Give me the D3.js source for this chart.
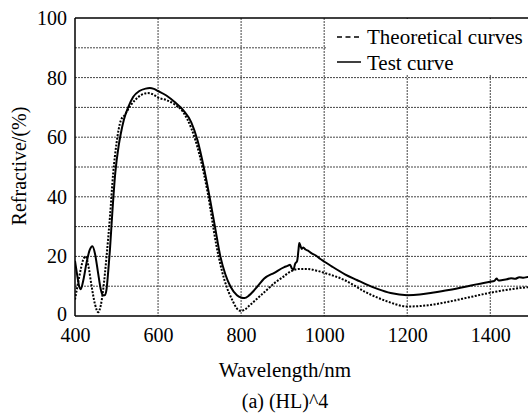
<!DOCTYPE html>
<html><head><meta charset="utf-8">
<script src="https://cdn.jsdelivr.net/npm/d3@7"></script>
<style>body{margin:0;background:#fff}svg{display:block}svg text{font-family:'Liberation Serif','Times New Roman',Times,serif !important;fill:#000}</style>
</head><body><svg id="c" width="528" height="414"></svg>
<script>
const xTicks=[400,600,800,1000,1200,1400];
const yTicks=[0,20,40,60,80,100];
const legendLabels=["Theoretical curves","Test curve"];
const theoWl=[400,410,420,426,432,440,448,456,462,468,476,484,492,500,510,520,533,545,560,575,590,600,620,640,660,680,700,720,740,760,780,790,800,810,820,840,860,880,900,920,940,960,980,1000,1050,1100,1150,1200,1250,1300,1350,1400,1450,1500];
const theoR=[5.5,13,19,20,17,10,4,1.3,3.5,9,20,33,48,58,65.5,67.5,70.5,72.5,74.2,74.8,74.2,73.3,72.5,71,68.5,63,54,41,24,12,5,2.5,1.7,2.3,3.5,6,8.5,11,13,15,15.8,15.8,15.3,14.5,12,8,5,3.2,3.6,4.8,6.3,7.8,9,9.8];
const testWl=[400,405,410,414,420,428,435,442,448,455,462,467,472,476,480,484,490,497,505,510,518,528,540,555,570,580,590,600,620,640,661,680,695,710,724,737,750,762,774,790,800,808,820,840,855,880,904,912,918,922,926,930,935,938,940,943,946,950,955,960,970,980,990,1000,1020,1050,1080,1100,1130,1160,1200,1230,1260,1300,1340,1370,1400,1410,1415,1420,1430,1440,1450,1460,1470,1480,1490,1500];
const testR=[18.5,14,10,9,12,18,22,23.4,21,15,9,7,7,9,15,22,35,48,57,61,66,70,73.5,75.5,76.3,76.5,76.2,75.5,74,71.8,69,65,59,50,40,30,20,14,10,7,6.2,6,7,10,12.5,14.5,16.4,16.8,17.2,16,15.5,17.5,18.5,22,24.5,23.5,22.5,23,22.3,22,21,20.3,19.2,18.3,16.5,14,12,10.7,9,7.7,7,7.2,7.8,8.7,9.8,10.7,11.5,11.8,12.6,11.9,12.1,12.3,12.7,12.5,13,12.8,13.1,13];

const FONT="'Liberation Serif','Times New Roman',Times,serif";
const svg=d3.select("#c");
const x=d3.scaleLinear().domain([400,1500]).range([75,531.8]);
const y=d3.scaleLinear().domain([0,100]).range([316,18]);
const L=75,R=528,T=18,B=316;

const g=svg.append("g");
g.selectAll("line.h").data(d3.range(10,100,10)).join("line")
 .attr("x1",L).attr("x2",R).attr("y1",d=>y(d)).attr("y2",d=>y(d))
 .attr("stroke","#444").attr("stroke-width",1).attr("stroke-dasharray","2,1");
g.selectAll("line.v").data(xTicks.slice(1)).join("line")
 .attr("x1",d=>x(d)).attr("x2",d=>x(d)).attr("y1",T).attr("y2",B)
 .attr("stroke","#444").attr("stroke-width",1).attr("stroke-dasharray","2,1");

svg.append("rect").attr("x",326).attr("y",T+1).attr("width",R-326).attr("height",55).attr("fill","#fff");

svg.append("defs").append("clipPath").attr("id","cp").append("rect")
 .attr("x",L).attr("y",T-5).attr("width",R-L).attr("height",B-T+5);

const line=d3.line().x(d=>x(d[0])).y(d=>y(d[1])).curve(d3.curveMonotoneX);
svg.append("path").datum(d3.zip(theoWl,theoR)).attr("d",line).attr("clip-path","url(#cp)")
 .attr("fill","none").attr("stroke","#000").attr("stroke-width",2).attr("stroke-dasharray","2,1.5");
svg.append("path").datum(d3.zip(testWl,testR)).attr("d",line).attr("clip-path","url(#cp)")
 .attr("fill","none").attr("stroke","#000").attr("stroke-width",2);

const xa=svg.append("g").attr("transform",`translate(0,${B})`)
 .call(d3.axisBottom(x).tickValues(xTicks).tickSize(0).tickPadding(12).tickFormat(d3.format("d")));
xa.select(".domain").remove();
xa.attr("font-family",FONT).attr("font-size",20);
const ya=svg.append("g").attr("transform",`translate(${L},0)`)
 .call(d3.axisLeft(y).tickValues(yTicks).tickSize(0).tickPadding(8));
ya.select(".domain").remove();
ya.attr("font-family",FONT).attr("font-size",20);
ya.selectAll(".tick").filter(d=>d===0).select("text").attr("y",-2);

svg.append("line").attr("x1",L).attr("x2",R).attr("y1",B).attr("y2",B).attr("stroke","#000").attr("stroke-width",1.5);
svg.append("line").attr("x1",L).attr("x2",L).attr("y1",T).attr("y2",B).attr("stroke","#000").attr("stroke-width",1.5);
svg.append("line").attr("x1",L).attr("x2",R).attr("y1",T).attr("y2",T).attr("stroke","#000").attr("stroke-width",1.5);

svg.append("line").attr("x1",337).attr("x2",361).attr("y1",37).attr("y2",37).attr("stroke","#000").attr("stroke-width",1.3).attr("stroke-dasharray","5,3.5");
svg.append("text").attr("x",367).attr("y",43.5).attr("font-size",21).text(legendLabels[0]);
svg.append("line").attr("x1",337).attr("x2",361).attr("y1",62).attr("y2",62).attr("stroke","#000").attr("stroke-width",1.5);
svg.append("text").attr("x",367).attr("y",70).attr("font-size",21).text(legendLabels[1]);

svg.append("text").attr("x",285).attr("y",377).attr("text-anchor","middle").attr("font-size",21).text("Wavelength/nm");
svg.append("text").attr("x",285).attr("y",408).attr("text-anchor","middle").attr("font-size",20).text("(a) (HL)^4");
svg.append("text").attr("transform","translate(26,166) rotate(-90)").attr("text-anchor","middle").attr("font-size",20).text("Refractive/(%)");
svg.selectAll("text").attr("font-family",FONT);
</script></body></html>
